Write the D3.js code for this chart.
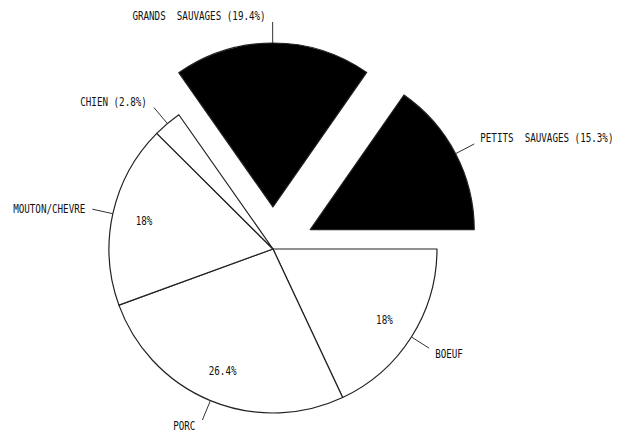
<!DOCTYPE html>
<html>
<head>
<meta charset="utf-8">
<script src="https://cdn.jsdelivr.net/npm/d3@7"></script>
<style>
  body { margin: 0; background: #fff; }
  text { font-family: "DejaVu Sans Mono", monospace; font-size: 12px; fill: #111; white-space: pre; }
</style>
</head>
<body>
<div id="chart"></div>
<script>
// data
const categories = ["BOEUF", "PORC", "MOUTON/CHEVRE", "CHIEN", "GRANDS SAUVAGES", "PETITS SAUVAGES"];
const percents = [18, 26.4, 18, 2.8, 19.4, 15.3];
const wild = [false, false, false, false, true, true];
const outerLabels = ["BOEUF", "PORC", "MOUTON/CHEVRE", "CHIEN (2.8%)", "GRANDS  SAUVAGES (19.4%)", "PETITS  SAUVAGES (15.3%)"];
const innerLabels = ["18%", "26.4%", "18%", "", "", ""];

const width = 622, height = 435;
const cx = 273, cy = 249;
const radius = 164;
const explode = 42;
const squeeze = 0.77; // plotter lettering is narrow

const svg = d3.select("#chart").append("svg")
  .attr("width", width)
  .attr("height", height);

const g = svg.append("g").attr("transform", "translate(" + cx + "," + cy + ")");

// start at 3 o'clock and go clockwise
const pie = d3.pie()
  .sort(null)
  .startAngle(Math.PI / 2)
  .endAngle(Math.PI / 2 + 2 * Math.PI)
  .value(d => d.value);

const rows = categories.map((c, i) => ({ name: c, value: percents[i], wild: wild[i], outer: outerLabels[i], inner: innerLabels[i] }));
const arcs = pie(rows);

const arc = d3.arc().innerRadius(0).outerRadius(radius);
const mid = d => (d.startAngle + d.endAngle) / 2;

function offset(d) {
  if (!d.data.wild) return [0, 0];
  return [Math.sin(mid(d)) * explode, -Math.cos(mid(d)) * explode];
}

const slice = g.selectAll("g.slice")
  .data(arcs).enter()
  .append("g")
  .attr("class", "slice")
  .attr("transform", d => "translate(" + offset(d) + ")");

slice.append("path")
  .attr("d", arc)
  .attr("fill", d => d.data.wild ? "#000" : "#fff")
  .attr("stroke", "#222")
  .attr("stroke-width", 1.2)
  .attr("stroke-linejoin", "round");

// percent inside the slice
slice.filter(d => d.data.inner)
  .append("text")
  .attr("transform", d => "translate(" + [Math.sin(mid(d)) * 132, -Math.cos(mid(d)) * 132] + ") scale(" + squeeze + ",1)")
  .attr("text-anchor", "middle")
  .attr("dy", "0.35em")
  .text(d => d.data.inner);

// tick marks
slice.append("line")
  .attr("x1", d => Math.sin(mid(d)) * radius)
  .attr("y1", d => -Math.cos(mid(d)) * radius)
  .attr("x2", d => Math.sin(mid(d)) * 185)
  .attr("y2", d => -Math.cos(mid(d)) * 185)
  .attr("stroke", "#333")
  .attr("stroke-width", 1);

// outside labels
slice.append("text")
  .attr("transform", d => {
    const s = Math.sin(mid(d)), v = -Math.cos(mid(d));
    const x = s * 185 + (s >= -0.001 ? 6 : -7);
    const y = v * 185 + (v > 0.3 ? 6 : v < -0.3 ? -6 : 0);
    return "translate(" + x + "," + y + ") scale(" + squeeze + ",1)";
  })
  .attr("text-anchor", d => Math.sin(mid(d)) >= -0.001 ? "start" : "end")
  .attr("dy", "0.35em")
  .text(d => d.data.outer);
</script>
</body>
</html>
